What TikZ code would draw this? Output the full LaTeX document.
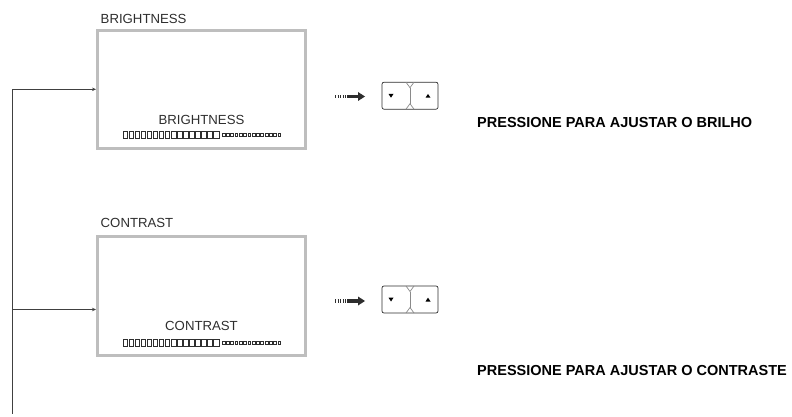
\documentclass[tikz,border=0pt]{standalone}
\usepackage{fontspec}
\setmainfont{Liberation Sans}
\usetikzlibrary{arrows.meta}
\definecolor{lcdgray}{HTML}{BEBEBE}
\definecolor{txtgray}{HTML}{2E2E2E}
\definecolor{linegray}{HTML}{404040}
\definecolor{divgray}{HTML}{8A8A8A}
\begin{document}
\begin{tikzpicture}[x=1pt,y=-1pt,
  lcd/.style={draw=lcdgray, line width=3pt, minimum width=208pt, minimum height=118pt, inner sep=0pt},
  captext/.style={font=\fontsize{13.2}{14}\selectfont, text=txtgray, inner sep=0pt},
  note/.style={font=\fontsize{14.5}{16}\selectfont\bfseries, text=black, inner sep=0pt, anchor=west},
  feed/.style={draw=linegray, line width=0.9pt},
  feedarrow/.style={feed, -{Stealth[length=4pt,width=3.5pt]}},
  sq/.style={draw=txtgray, line width=0.75pt},
  sqs/.style={draw=txtgray, line width=0.55pt},
  btn/.style={draw=txtgray, line width=0.7pt, rounded corners=2pt, minimum width=56pt, minimum height=27pt, inner sep=0pt},
  divider/.style={draw=divgray, line width=0.7pt},
  bar/.pic={
    \foreach \i in {0,...,14} \draw[sq] (\i*6.05,-3.5) rectangle ++(4.5,7);
    \draw[sq] (15*6.05,-3.5) rectangle ++(5.6,7);
    \foreach \i in {0,...,13} \draw[sqs] (99+\i*4.3,-1.4) rectangle ++(2.8,2.8);
  },
  push/.pic={
    \draw[txtgray, line width=3.6pt, dash pattern=on 1.2pt off 1.4pt] (0,0) -- (11,0);
    \fill[txtgray] (11.5,-1.9) rectangle (23.5,1.9);
    \fill[txtgray] (23,-4.5) -- (30,0) -- (23,4.5) -- cycle;
  },
  keys/.pic={
    \draw[divider] (-4,-13.5) -- (0,-8) -- (4,-13.5);
    \draw[divider] (0,-8) -- (0,8);
    \draw[divider] (-4,13.5) -- (0,8) -- (4,13.5);
    \fill[black] (-21.5,-1.8) -- (-16.5,-1.8) -- (-19,2) -- cycle;
    \fill[black] (15.5,2) -- (20.5,2) -- (18,-1.8) -- cycle;
  }]
\useasboundingbox (0,0) rectangle (792,417);

% ---- BRIGHTNESS block ----
\node[captext, anchor=west] (t1) at (100.5,18.7) {BRIGHTNESS};
\node[lcd] (box1) at (201.5,89.5) {};
\node[captext] (in1) at (201.5,120) {BRIGHTNESS};
\pic at (123,134.5) {bar};
\pic at (335,96.5) {push};
\node[btn] (btn1) at (410,95.7) {};
\pic at (btn1.center) {keys};
\node[note] (n1) at (477,123) {PRESSIONE PARA AJUSTAR O BRILHO};

% ---- CONTRAST block ----
\node[captext, anchor=west] (t2) at (100.5,222.7) {CONTRAST};
\node[lcd, minimum height=119pt] (box2) at (201.5,296) {};
\node[captext] (in2) at (201.5,326) {CONTRAST};
\pic at (123,342.7) {bar};
\pic at (335,301) {push};
\node[btn] (btn2) at (410,299.5) {};
\pic at (btn2.center) {keys};
\node[note] (n2) at (477,370.7) {PRESSIONE PARA AJUSTAR O CONTRASTE};

% ---- feed lines ----
\coordinate (j1) at (12.3,89.3);
\coordinate (j2) at (12.3,309.5);
\coordinate (jend) at (12.3,414);
\draw[feed] (j1) -- (jend);
\draw[feedarrow] (j1) -- (j1 -| box1.west);
\draw[feedarrow] (j2) -- (j2 -| box2.west);
\end{tikzpicture}
\end{document}
